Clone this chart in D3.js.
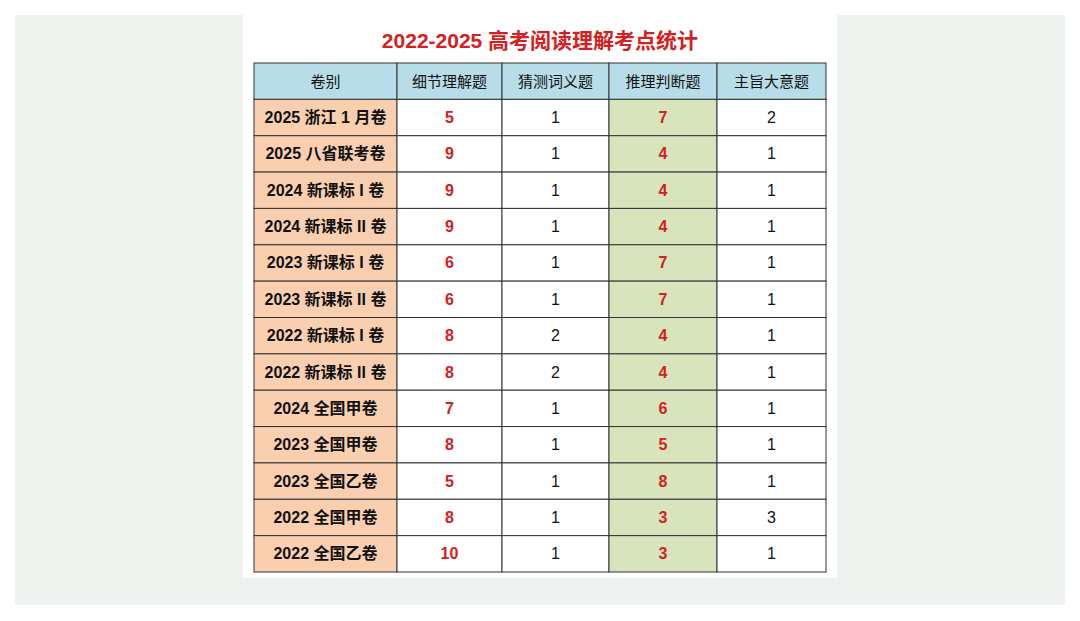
<!DOCTYPE html>
<html><head><meta charset="utf-8">
<script src="https://cdn.jsdelivr.net/npm/d3@7"></script>
<style>body{margin:0;background:#fff}svg{display:block}</style>
</head><body>
<svg id="chart" width="1080" height="621"></svg>
<script>
var title = "2022-2025 高考阅读理解考点统计";
var columns = ["卷别", "细节理解题", "猜测词义题", "推理判断题", "主旨大意题"];
var papers = ["2025 浙江 1 月卷", "2025 八省联考卷", "2024 新课标 I 卷", "2024 新课标 II 卷",
  "2023 新课标 I 卷", "2023 新课标 II 卷", "2022 新课标 I 卷", "2022 新课标 II 卷",
  "2024 全国甲卷", "2023 全国甲卷", "2023 全国乙卷", "2022 全国甲卷", "2022 全国乙卷"];
var detail = [5, 9, 9, 9, 6, 6, 8, 8, 7, 8, 5, 8, 10];
var vocab = [1, 1, 1, 1, 1, 1, 2, 2, 1, 1, 1, 1, 1];
var inference = [7, 4, 4, 4, 7, 7, 4, 4, 6, 5, 8, 3, 3];
var mainIdea = [2, 1, 1, 1, 1, 1, 1, 1, 1, 1, 1, 3, 1];

var svg = d3.select("#chart");
svg.append("rect").attr("x",15).attr("y",15).attr("width",1050).attr("height",590).attr("fill","#eef3f0");
svg.append("rect").attr("x",243).attr("y",15).attr("width",594).attr("height",563).attr("fill","#fff");
svg.append("text").attr("x",540).attr("y",48).attr("text-anchor","middle")
  .attr("font-family","Liberation Sans, Noto Sans CJK SC").attr("font-size",21).attr("font-weight","bold")
  .attr("fill","#d42020").text(title);

var colEdges = [254, 397, 502, 609, 717, 826];
var x = d3.scaleOrdinal().domain(columns).range(colEdges.slice(0,5));
var y = d3.scaleBand().domain(d3.range(papers.length + 1)).range([63, 572]);
var colFill = ["#f9cfb0", "#fff", "#fff", "#d8e4bc", "#fff"];
var series = [papers, detail, vocab, inference, mainIdea];
var redCols = [1, 3];

var cells = [];
columns.forEach(function(c, ci){
  cells.push({r:0, c:ci, text:c, head:true});
  series[ci].forEach(function(v, ri){ cells.push({r:ri+1, c:ci, text:v}); });
});
var g = svg.selectAll("g.cell").data(cells).enter().append("g");
g.append("rect")
  .attr("x", d => x(columns[d.c])).attr("y", d => y(d.r))
  .attr("width", d => colEdges[d.c+1]-colEdges[d.c]).attr("height", y.bandwidth())
  .attr("fill", d => d.head ? "#b7dde8" : colFill[d.c]).attr("stroke","#333").attr("stroke-width",1);
g.append("text")
  .attr("x", d => (colEdges[d.c]+colEdges[d.c+1])/2).attr("y", d => y(d.r)+y.bandwidth()/2)
  .attr("text-anchor","middle").attr("dominant-baseline","central")
  .attr("font-family","Liberation Sans, Noto Sans CJK SC")
  .attr("font-size", d => d.head ? 15 : 16)
  .attr("font-weight", d => (d.head ? "normal" : (d.c===0 || redCols.indexOf(d.c)>=0 ? "bold" : "normal")))
  .attr("fill", d => (!d.head && redCols.indexOf(d.c)>=0) ? "#d42020" : "#111")
  .text(d => d.text);
</script>
</body></html>
